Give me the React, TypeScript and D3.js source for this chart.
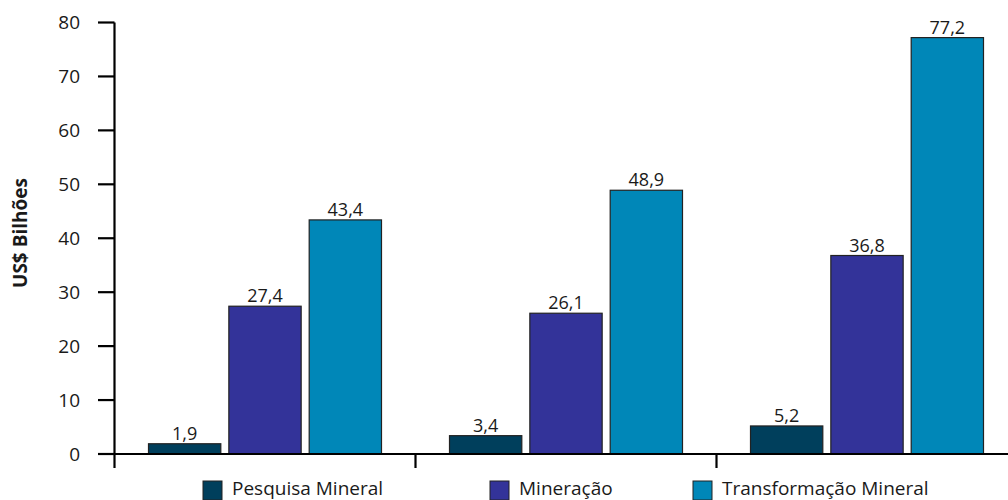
import React from "react";
import * as d3 from "d3";

// Chart data
const categories = ["Grupo 1", "Grupo 2", "Grupo 3"];
const series = ["Pesquisa Mineral", "Mineração", "Transformação Mineral"];
const pesquisa = [1.9, 3.4, 5.2];
const mineracao = [27.4, 26.1, 36.8];
const transformacao = [43.4, 48.9, 77.2];
const yTicks = [0, 10, 20, 30, 40, 50, 60, 70, 80];
const seriesColors = ["#003f5c", "#333399", "#0087b8"];

const values = [pesquisa, mineracao, transformacao];

const W = 1008;
const H = 500;
const FONT = "'Open Sans', 'DejaVu Sans', sans-serif";

export default function App() {
  const y = d3.scaleLinear().domain([0, 80]).range([454, 22.5]);
  const x0 = d3.scaleBand<string>().domain(categories).range([114.5, 1017.5]).padding(0);
  const x1 = d3
    .scaleBand<string>()
    .domain(series)
    .range([34, 267])
    .paddingInner(0.1)
    .paddingOuter(0);
  const color = d3.scaleOrdinal<string, string>().domain(series).range(seriesColors);
  const fmt = (v: number) => v.toFixed(1).replace(".", ",");

  const legendX = [203, 490, 693];

  return (
    <svg
      width={W}
      height={H}
      style={{ position: "fixed", left: 0, top: 0, background: "#fff" }}
      fontFamily={FONT}
    >
      {/* bars */}
      {categories.map((c, ci) => (
        <g key={c} transform={`translate(${x0(c)},0)`}>
          {series.map((s, si) => {
            const v = values[si][ci];
            const bx = x1(s)!;
            const bw = x1.bandwidth();
            return (
              <g key={s}>
                <rect
                  x={bx}
                  y={y(v)}
                  width={bw}
                  height={y(0) - y(v)}
                  fill={color(s)}
                  stroke="#222"
                  strokeWidth={1.2}
                />
                <text
                  x={bx + bw / 2}
                  y={y(v) - 4}
                  textAnchor="middle"
                  fontSize={18}
                  fill="#1a1a1a"
                >
                  {fmt(v)}
                </text>
              </g>
            );
          })}
        </g>
      ))}

      {/* y axis */}
      <line x1={114.5} x2={114.5} y1={y(80)} y2={y(0)} stroke="#000" strokeWidth={2.2} />
      {yTicks.map((t) => (
        <g key={t}>
          <line x1={98} x2={114.5} y1={y(t)} y2={y(t)} stroke="#000" strokeWidth={2.2} />
          <text
            x={80}
            y={y(t)}
            dy="0.35em"
            textAnchor="end"
            fontSize={19}
            fill="#1a1a1a"
          >
            {t}
          </text>
        </g>
      ))}

      {/* x axis */}
      <line x1={98} x2={W} y1={y(0)} y2={y(0)} stroke="#000" strokeWidth={2.2} />
      {categories.map((c) => (
        <line
          key={c}
          x1={x0(c)!}
          x2={x0(c)!}
          y1={y(0)}
          y2={y(0) + 14}
          stroke="#000"
          strokeWidth={2.2}
        />
      ))}

      {/* y title */}
      <text
        transform={`translate(27,233) rotate(-90)`}
        textAnchor="middle"
        fontSize={19}
        fontWeight="bold"
        fill="#1a1a1a"
      >
        US$ Bilhões
      </text>

      {/* legend */}
      {series.map((s, i) => (
        <g key={s} transform={`translate(${legendX[i]},481)`}>
          <rect x={0} y={0} width={19} height={19} fill={color(s)} stroke="#222" strokeWidth={1} />
          <text x={29} y={13.5} fontSize={19} fill="#1a1a1a">
            {s}
          </text>
        </g>
      ))}
    </svg>
  );
}
